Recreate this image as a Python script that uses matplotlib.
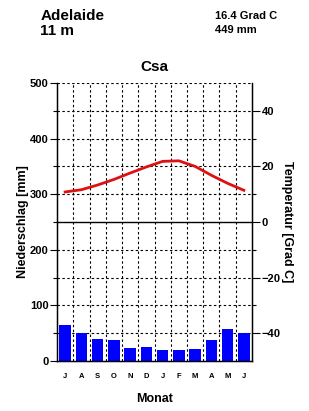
import numpy as np
import matplotlib
matplotlib.use("Agg")
import matplotlib.pyplot as plt

plt.rcParams['font.family'] = ['Liberation Sans', 'DejaVu Sans']

station = "Adelaide"
elevation = "11 m"
mean_temp = "16.4 Grad C"
annual_precip = "449 mm"
climate = "Csa"

months = ["J", "A", "S", "O", "N", "D", "J", "F", "M", "A", "M", "J"]
precip = [65, 50, 40, 37, 24, 25, 20, 20, 22, 38, 57, 51]
temp = [10.8, 11.6, 13.3, 15.3, 17.6, 19.8, 21.8, 22.0, 20.0, 16.8, 13.9, 11.4]

fig = plt.figure(figsize=(3.09, 4.11), dpi=100)
ax = fig.add_axes([0.1845, 0.1217, 0.631, 0.6764])
x = np.arange(len(months))

dot = (0, (2.2, 2.2))
# grid lines
for yv in range(50, 501, 50):
    if yv == 250:
        ax.axhline(yv, color='black', lw=1.0, zorder=1)
    else:
        ax.axhline(yv, color='black', lw=0.8, ls=dot, zorder=1)
for xv in np.arange(0.5, 11, 1):
    ax.axvline(xv, color='black', lw=0.8, ls=dot, zorder=1)

ax.bar(x, precip, width=0.7, color='#0000ff', zorder=2)
ax.set_xlim(-0.5, 11.5)
ax.set_ylim(0, 500)
ax.spines['top'].set_visible(False)
for s in ['left', 'right', 'bottom']:
    ax.spines[s].set_linewidth(1.0)

ax.set_yticks(range(0, 501, 100))
ax.set_yticks(range(50, 501, 100), minor=True)
ax.tick_params(axis='y', which='major', length=5, width=0.8, labelsize=8, pad=1)
ax.tick_params(axis='y', which='minor', length=3, width=0.8)
for lab in ax.get_yticklabels():
    lab.set_fontweight('bold')
ax.set_xticks(x)
ax.set_xticklabels(months, fontsize=5.5, fontweight='bold')
ax.tick_params(axis='x', length=0, pad=9)
ax.set_ylabel("Niederschlag [mm]", fontsize=9, fontweight='bold', labelpad=1)
ax.set_xlabel("Monat", fontsize=9, fontweight='bold', labelpad=9)

ax2 = ax.twinx()
ax2.set_ylim(-50, 50)
ax2.plot(x, temp, color='#dd1111', lw=2.0, zorder=3)
ax2.spines['top'].set_visible(False)
ax2.set_yticks([-40, -20, 0, 20, 40])
ax2.set_yticks([-30, -10, 10, 30], minor=True)
ax2.tick_params(axis='y', which='major', length=6, width=0.8, labelsize=8, pad=1)
ax2.tick_params(axis='y', which='minor', length=3, width=0.8)
for lab in ax2.get_yticklabels():
    lab.set_fontweight('bold')
ax2.set_ylabel("Temperatur [Grad C]", fontsize=9, fontweight='bold', rotation=-90, labelpad=9)

fig.text(0.13, 0.962, station, fontsize=11, fontweight='bold', va='center')
fig.text(0.13, 0.925, elevation, fontsize=11, fontweight='bold', va='center')
fig.text(0.695, 0.962, mean_temp, fontsize=8, fontweight='bold', va='center')
fig.text(0.695, 0.928, annual_precip, fontsize=8, fontweight='bold', va='center')
fig.text(0.5, 0.836, climate, fontsize=11, fontweight='bold', ha='center', va='center')

fig.savefig("out.png", dpi=100)
